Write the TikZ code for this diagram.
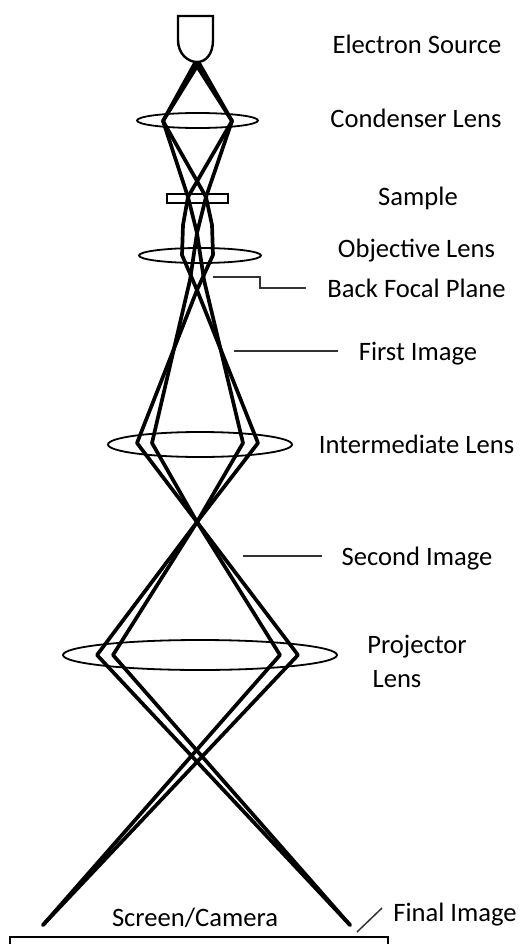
\documentclass[tikz,border=0pt]{standalone}
\usepackage{fontspec}
\setmainfont{Carlito}
\usetikzlibrary{shapes.geometric}
\definecolor{leadgray}{HTML}{333333}

\begin{document}
\begin{tikzpicture}[
  x=1pt, y=-1pt,
  lens/.style={draw=black, ellipse, line width=1.8pt, inner sep=0pt,
    minimum width=#1},
  ray/.style={line width=3.7pt, line join=round, line cap=round},
  lbl/.style={font=\fontsize{26.6}{30}\selectfont, text=black, align=center,
    inner sep=0pt, anchor=base},
  leader/.style={draw=leadgray, line width=1.5pt},
]
\useasboundingbox (0,0) rectangle (520,944);

% =============================================
% Source, lenses, sample, screen
% =============================================
\draw[line width=2.4pt] (178,16) -- (213,16) -- (213,40)
  .. controls (213,54) and (206,62) .. (197,62)
  .. controls (188,62) and (178,54) .. (178,40) -- cycle;

\node[lens=121pt, minimum height=15pt] (condenser) at (197.5,120.5) {};
\node[draw, line width=1.8pt, minimum width=61pt, minimum height=9pt, inner sep=0pt]
  (sample) at (197.5,198.5) {};
\node[lens=122pt, minimum height=15pt] (objective) at (200,255.5) {};
\node[lens=184pt, minimum height=25pt] (intermediate) at (200,444.5) {};
\node[lens=274pt, minimum height=30pt] (projector) at (200,655) {};
\node[draw, line width=2.2pt, minimum width=378pt, minimum height=30pt, inner sep=0pt]
  (screen) at (199,952) {};

% =============================================
% Ray turning points
% =============================================
\coordinate (srcL) at (195,63);
\coordinate (srcR) at (199,63);
\coordinate (condL) at (163,121);
\coordinate (condR) at (232,121);
\coordinate (cross) at (197,233);
\coordinate (focal) at (197,290);
\coordinate (imgtwo) at (197,522);
\coordinate (endL) at (43,925);
\coordinate (endR) at (350,925);

% =============================================
% Rays
% =============================================
\draw[ray] (srcL) -- (condL) -- (206,197) -- (212,225) -- (213,255) -- (focal)
  -- (137,443) -- (imgtwo) -- (298,655) -- (endL);
\draw[ray] (srcR) -- (condR) -- (188,197) -- (183,225) -- (182,255) -- (focal)
  -- (258,443) -- (imgtwo) -- (97,655) -- (endR);
\draw[ray] (srcR) -- (condL) -- (188,197) -- (cross) -- (190,280)
  -- (152,443) -- (imgtwo) -- (280,655) -- (endL);
\draw[ray] (srcL) -- (condR) -- (206,197) -- (cross) -- (204,280)
  -- (243,443) -- (imgtwo) -- (113,655) -- (endR);

% =============================================
% Labels
% =============================================
\node[lbl] (source) at (417,54) {Electron Source};
\node[lbl] (condlabel) at (416,128) {Condenser Lens};
\node[lbl] (samplelabel) at (418,205) {Sample};
\node[lbl] (objlabel) at (416.5,257) {Objective Lens};
\node[lbl] (bfp) at (416.5,297) {Back Focal Plane};
\node[lbl] (first) at (418,360) {First Image};
\node[lbl] (interlabel) at (416.5,453) {Intermediate Lens};
\node[lbl] (second) at (417,565) {Second Image};
\node[lbl] (projlabel) at (417,653) {Projector};
\node[lbl] (projlabeltwo) at (397,687) {Lens};
\node[lbl] (camera) at (195,926) {Screen/Camera};
\node[lbl] (final) at (455,921) {Final Image};

% =============================================
% Leaders
% =============================================
\coordinate (bfptip) at (213,277);
\coordinate (bfpend) at (306,288);
\coordinate (firsttip) at (234,351);
\coordinate (firstend) at (338,351);
\coordinate (secondtip) at (243,556);
\coordinate (secondend) at (322,556);
\coordinate (finaltip) at (357,932);
\coordinate (finalend) at (382,908);

\draw[leader] (bfptip) -- (260,277) |- (bfpend);
\draw[leader] (firsttip) -- (firstend);
\draw[leader, line width=2pt] (secondtip) -- (secondend);
\draw[leader] (finaltip) -- (finalend);

\end{tikzpicture}
\end{document}
